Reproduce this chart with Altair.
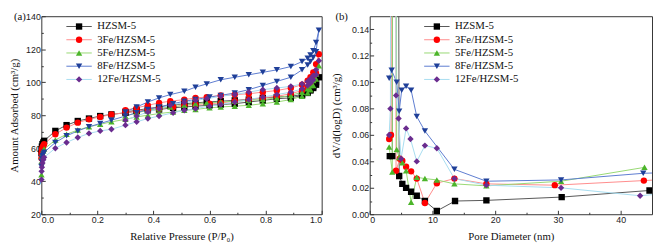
import altair as alt
import pandas as pd

series = ["HZSM-5", "3Fe/HZSM-5", "5Fe/HZSM-5", "8Fe/HZSM-5", "12Fe/HZSM-5"]
codes = ["s0", "s1", "s2", "s3", "s4"]
line_colors = ["#555555", "#ff8a8a", "#97d873", "#5b7bd0", "#a6dcf0"]
marker_colors = ["#000000", "#ff0000", "#4cb52a", "#1f3f98", "#6a2c8f"]
shapes = ["square", "circle", "triangle-up", "triangle-down", "diamond"]

# (a) N2 isotherms: adsorption then desorption branch
ads_p = [0.0005, 0.001, 0.002, 0.004, 0.007, 0.01, 0.05, 0.09, 0.13, 0.17, 0.21, 0.25,
         0.30, 0.34, 0.38, 0.42, 0.47, 0.51, 0.55, 0.60, 0.64, 0.69, 0.74, 0.79, 0.84,
         0.89, 0.93, 0.95, 0.96, 0.97, 0.98, 0.99]
des_p = [0.98, 0.97, 0.96, 0.95, 0.93, 0.89, 0.84, 0.79, 0.74, 0.69, 0.64, 0.59, 0.55,
         0.51, 0.46, 0.42, 0.38, 0.34, 0.30]

hz_ads = [57, 59, 61, 62.5, 63.5, 64.5, 70.5, 74, 76.5, 78, 79.5, 80.5, 81.5, 82.5, 83, 83.5,
          84.5, 85, 85.5, 86, 86.5, 87, 88, 89, 90, 90.5, 92, 93.5, 95, 96.5, 98.5, 103]
hz_des = [100, 97.5, 95.5, 94, 92.5, 91.5, 91, 90.5, 89.5, 89, 88.5, 88, 87.5, 87, 86, 85, 84, 83, 82]
fe3_ads = [54, 57, 59, 60.5, 61.5, 62.5, 68.5, 72.5, 75.5, 77.5, 79, 80.5, 81.5, 82.5, 83.5, 84,
           85, 86, 86.5, 87, 87.5, 88.5, 89.5, 90.5, 91.5, 93, 95, 97, 99, 101.5, 105.5, 117]
fe3_des = [111, 106, 103, 101, 98.5, 96.5, 95, 94, 93, 92.5, 92, 91, 90.5, 89.5, 88.5, 87.5, 86, 84.5, 83]
fe5_ads = [44, 52, 55, 57, 58.5, 59.5, 65, 68.5, 71, 73, 74.5, 76, 77.5, 79, 80, 81, 82, 83,
           83.5, 84.5, 85, 85.5, 86, 87, 88, 89.5, 91.5, 93.5, 95.5, 98, 102, 110]
fe5_des = [105, 101, 98, 96, 94, 92, 90.5, 89.5, 89, 88.5, 88, 87.5, 87, 86, 85, 84, 83, 81.5, 79.5]
fe8_ads = [49, 52, 54, 55.5, 56.5, 57.5, 63.5, 67.5, 70.5, 73, 75, 77, 79.5, 81.5, 83.5, 85, 87,
           88.5, 89.5, 91, 92, 93.5, 95.5, 98, 100.5, 103, 107.5, 110.5, 112.5, 115, 118.5, 131.5]
fe8_des = [124, 119, 116.5, 114.5, 112.5, 109.5, 107.5, 106, 104.5, 103, 101.5, 99, 97, 94.5,
           92.5, 90.5, 88, 85, 82]
fe12_ads = [41, 46, 48.5, 51, 53, 54.5, 60, 63.5, 66.5, 69, 70.5, 71.5, 74, 76, 78, 79.5, 81.5,
            83, 84, 85.5, 86.5, 88, 89.5, 91, 92.5, 94, 96, 98, 99.5, 101.5, 104.5, 113]
fe12_des = [107.5, 104, 102, 100.5, 99, 97.5, 96.5, 95.5, 94, 92.5, 91.5, 90, 89, 87.7, 86, 84,
            82, 79.5, 77]

# (b) BJH pore size distributions
hz_d = [3.2, 3.6, 3.9, 4.7, 5.2, 5.8, 6.6, 7.5, 8.8, 10.7, 13.6, 18.6, 30.6, 44.6]
hz_v = [0.044, 0.044, 1.5, 0.029, 0.023, 0.020, 0.017, 0.014, 0.010, 0.0025, 0.010, 0.0105, 0.013, 0.018]
fe3_d = [3.1, 3.4, 3.8, 4.2, 4.8, 5.2, 5.8, 6.6, 7.5, 8.8, 10.7, 13.5, 18.6, 29.5, 43.7, 50]
fe3_v = [0.057, 0.060, 1.5, 0.033, 0.042, 0.0405, 0.036, 0.0325, 0.027, 0.0085, 0.0235, 0.027,
         0.023, 0.022, 0.0255, 0.027]
fe5_d = [3.1, 3.6, 3.9, 4.3, 4.7, 5.2, 5.8, 6.6, 7.5, 8.8, 10.7, 13.5, 18.6, 30.5, 43.8]
fe5_v = [0.051, 0.032, 1.5, 0.049, 0.043, 0.039, 0.033, 0.009, 0.028, 0.027, 0.026, 0.023,
         0.0215, 0.025, 0.0355]
fe8_d = [3.1, 3.5, 4.3, 4.7, 5.1, 5.8, 6.6, 7.5, 8.8, 13.5, 18.6, 30.5, 43.6, 50]
fe8_v = [0.103, 0.109, 0.100, 0.078, 0.094, 0.097, 0.094, 0.074, 0.063, 0.034, 0.025, 0.026, 0.031, 0.032]
fe12_d = [3.1, 3.3, 3.7, 4.2, 4.6, 5.0, 5.8, 6.5, 7.5, 8.8, 10.7, 13.5, 18.6, 30.5, 43.1, 50]
fe12_v = [0.060, 0.080, 1.5, 0.090, 0.0725, 0.042, 0.065, 0.057, 0.040, 0.052, 0.050, 0.027,
          0.022, 0.020, 0.014, 0.017]

iso_ads = [hz_ads, fe3_ads, fe5_ads, fe8_ads, fe12_ads]
iso_des = [hz_des, fe3_des, fe5_des, fe8_des, fe12_des]
psd_d = [hz_d, fe3_d, fe5_d, fe8_d, fe12_d]
psd_v = [hz_v, fe3_v, fe5_v, fe8_v, fe12_v]

rows_a = []
for s, c, a, d in zip(series, codes, iso_ads, iso_des):
    seq = list(zip(ads_p, a)) + list(zip(des_p, d))
    for i, (x, y) in enumerate(seq):
        rows_a.append({"series": s, "code": c, "i": i, "x": x, "y": y})
df_a = pd.DataFrame(rows_a)

rows_b = []
for s, c, ds, vs in zip(series, codes, psd_d, psd_v):
    for i, (x, y) in enumerate(zip(ds, vs)):
        rows_b.append({"series": s, "code": c, "i": i, "x": x, "y": y})
df_b = pd.DataFrame(rows_b)

SERIF = "Liberation Serif"
MSIZE = 42


def panel(df, xdom, ydom, xmaj, xmin, ymaj, ymin, xfmt, yfmt, xtitle, ytitle, label,
          w, h, legx, legy, clip, labx, ytx):
    base = alt.Chart(df)
    common = dict(orient="none", legendX=legx, legendY=legy, title=None,
                  symbolSize=MSIZE, labelFont=SERIF, labelFontSize=11,
                  padding=0, rowPadding=1.5, labelOffset=13)
    line_leg = alt.Legend(symbolType="M-4,0H4", symbolStrokeWidth=1, labelColor="#111", **common)
    pt_leg = alt.Legend(symbolStrokeWidth=0, labelOpacity=0, labelExpr="' '", **common)
    xs = alt.Scale(domain=xdom, nice=False, zero=False)
    ys = alt.Scale(domain=ydom, nice=False, zero=False)
    lines = base.mark_line(strokeWidth=1, clip=clip).encode(
        x=alt.X("x:Q", scale=xs, axis=alt.Axis(values=xmaj, format=xfmt, tickSize=4, offset=-4,
                                               domain=False, grid=False, labelPadding=1,
                                               title=xtitle, titlePadding=7, orient="bottom")),
        y=alt.Y("y:Q", scale=ys, axis=alt.Axis(values=ymaj, format=yfmt, tickSize=4, offset=-4,
                                               domain=False, grid=False, labelPadding=1,
                                               title=ytitle, titleX=ytx, orient="left")),
        color=alt.Color("series:N", scale=alt.Scale(domain=series, range=line_colors),
                        legend=line_leg),
        detail="series:N",
        order="i:Q",
    )
    pts = base.mark_point(filled=True, size=MSIZE, opacity=1, clip=clip).encode(
        x=alt.X("x:Q", scale=xs, axis=alt.Axis(values=xmin, tickSize=2, offset=-2, labels=False,
                                               domain=False, grid=False, title=None, orient="bottom")),
        y=alt.Y("y:Q", scale=ys, axis=alt.Axis(values=ymin, tickSize=2, offset=-2, labels=False,
                                               domain=False, grid=False, title=None, orient="left")),
        fill=alt.Fill("code:N", scale=alt.Scale(domain=codes, range=marker_colors),
                      legend=pt_leg),
        shape=alt.Shape("code:N", scale=alt.Scale(domain=codes, range=shapes),
                        legend=pt_leg),
    )
    tag = alt.Chart(pd.DataFrame({"t": [label]})).mark_text(
        font=SERIF, fontSize=11, align="left", baseline="middle", color="#111"
    ).encode(text="t:N", x=alt.value(labx), y=alt.value(1))
    return alt.layer(lines, pts, tag).resolve_axis(x="independent", y="independent").properties(
        width=w, height=h
    )


left = panel(df_a, [0, 1], [20, 140],
             [0, 0.2, 0.4, 0.6, 0.8, 1.0], [0.1, 0.3, 0.5, 0.7, 0.9],
             [20, 40, 60, 80, 100, 120, 140], [30, 50, 70, 90, 110, 130],
             ".1f", "d", "Relative Pressure (P/P₀)", "Amount Adsorbed (cm³/g)", "(a)",
             286, 202, 33, 5, False, -28, -26)
right = panel(df_b, [0, 45], [0, 0.15],
              [0, 10, 20, 30, 40], [5, 15, 25, 35],
              [0, 0.02, 0.04, 0.06, 0.08, 0.10, 0.12, 0.14],
              [0.01, 0.03, 0.05, 0.07, 0.09, 0.11, 0.13],
              "d", ".2f", "Pore Diameter (nm)", "dV/d(logD) (cm³/g)", "(b)",
              288, 202, 63, 5, True, -35, -33)

chart = alt.hconcat(left, right, spacing=7).resolve_scale(
    color="independent", fill="independent", shape="independent"
).properties(
    padding={"left": 0, "top": 0, "right": 0, "bottom": 0}
).configure_view(
    stroke="#333333", strokeWidth=1
).configure_axis(
    labelFont="Liberation Sans", labelFontSize=9, labelColor="#222",
    titleFont=SERIF, titleFontSize=11, titleFontWeight="normal", titleColor="#111",
    tickColor="#333", tickWidth=1
)

chart.save("out.html", embed_options={"renderer": "svg", "actions": False})
